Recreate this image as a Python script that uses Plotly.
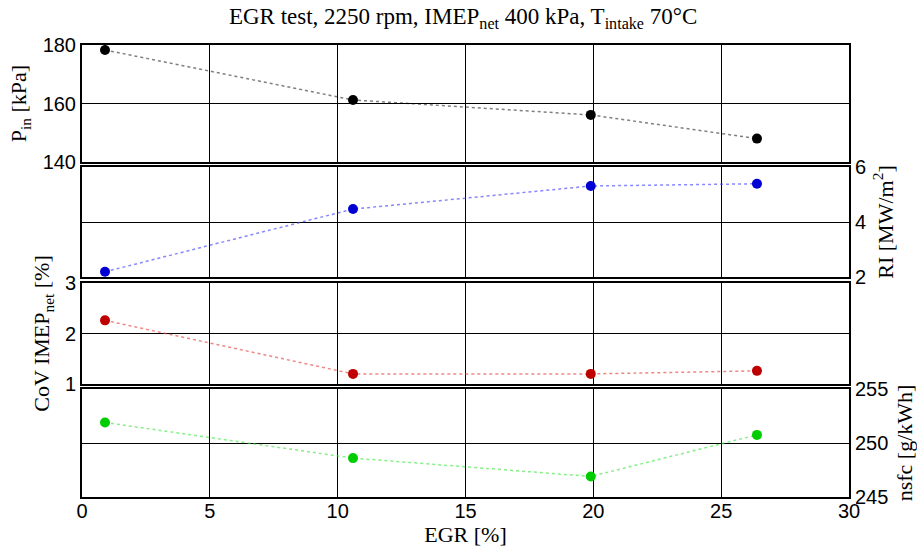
import plotly.graph_objects as go

egr = [0.9, 10.6, 19.9, 26.4]
p_in = [178.3, 161.2, 156.1, 148.0]
ri = [2.19, 4.47, 5.31, 5.39]
cov = [2.26, 1.20, 1.20, 1.26]
nsfc = [251.9, 248.6, 246.9, 250.75]

x_ticks = [0, 5, 10, 15, 20, 25, 30]

series = [
    (p_in, "rgb(0,0,0)", "rgba(0,0,0,0.5)"),
    (ri, "rgb(0,0,210)", "rgba(70,70,255,0.65)"),
    (cov, "rgb(190,0,0)", "rgba(230,70,70,0.65)"),
    (nsfc, "rgb(0,205,0)", "rgba(70,230,70,0.65)"),
]

fig = go.Figure()
for i, (vals, mc, lc) in enumerate(series):
    n = "" if i == 0 else str(i + 1)
    fig.add_trace(go.Scatter(
        x=egr, y=vals, mode="lines+markers",
        line=dict(color=lc, width=1.5, dash="dot"),
        marker=dict(color=mc, size=10),
        xaxis="x" + n, yaxis="y" + n, showlegend=False,
    ))

H = 452.0
def dom(top, bot):
    return [1 - (bot - 45) / H, 1 - (top - 45) / H]

domains = [dom(45, 162), dom(167, 277), dom(283, 384), dom(389, 497)]
yranges = [[140, 180], [2, 6], [1, 3], [245, 255]]
ydticks = [20, 2, 1, 5]
sides = ["left", "right", "left", "right"]
ytitles = ["P<sub>in</sub> [kPa]", "RI [MW/m<sup>2</sup>]",
           "CoV IMEP<sub>net</sub> [%]", "nsfc [g/kWh]"]
standoffs = [10, 12, 9, 11]

serif = "Liberation Serif, Times New Roman, serif"
sans = "Liberation Sans, Arial, sans-serif"

layout = dict(
    width=917, height=549,
    margin=dict(l=82, r=68, t=45, b=52, autoexpand=False),
    paper_bgcolor="white", plot_bgcolor="white",
    title=dict(text="EGR test, 2250 rpm, IMEP<sub>net</sub> 400 kPa, T<sub>intake</sub> 70°C",
               x=0.505, xanchor="center", y=0.986, yanchor="top",
               font=dict(family=serif, size=23, color="black")),
)

for i in range(4):
    n = "" if i == 0 else str(i + 1)
    last = i == 3
    layout["xaxis" + n] = dict(
        domain=[0, 1], range=[0, 30], tickvals=x_ticks,
        showticklabels=last, anchor="y" + n, automargin=False,
        matches=None if i == 0 else "x",
        showgrid=True, gridcolor="black", gridwidth=1,
        showline=True, linecolor="black", linewidth=2, mirror="allticks",
        ticks="inside", ticklen=4, tickcolor="black",
        zeroline=False, ticklabelstandoff=-5,
        tickfont=dict(family=sans, size=20, color="black"),
        title=dict(text="EGR [%]" if last else "", font=dict(family=serif, size=22, color="black"),
                   standoff=0),
    )
    layout["yaxis" + n] = dict(
        domain=domains[i], range=yranges[i], dtick=ydticks[i],
        anchor="x" + n, side=sides[i], automargin=False,
        showgrid=True, gridcolor="black", gridwidth=1,
        showline=True, linecolor="black", linewidth=2, mirror="allticks",
        ticks="inside", ticklen=4, tickcolor="black",
        zeroline=False,
        tickfont=dict(family=sans, size=20, color="black"),
        title=dict(text=ytitles[i], font=dict(family=serif, size=22, color="black"),
                   standoff=standoffs[i]),
    )

fig.update_layout(**layout)
fig.write_html("out.html", config={"displayModeBar": False},
               post_script="document.body.style.margin='0';")
